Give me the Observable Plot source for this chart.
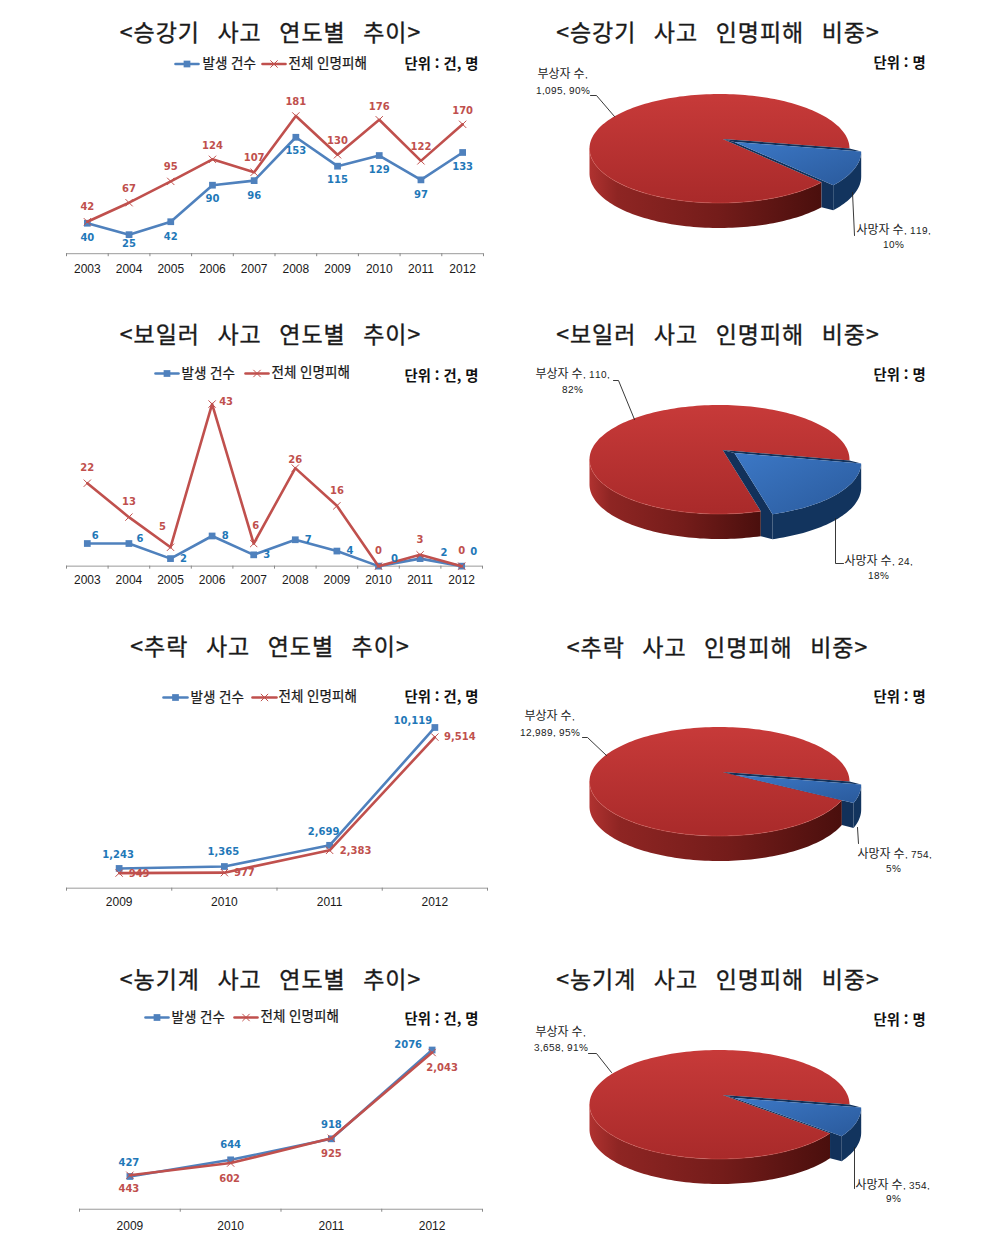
<!DOCTYPE html>
<html lang="ko">
<head>
<meta charset="utf-8">
<script src="https://cdn.jsdelivr.net/npm/d3@7"></script>
<script src="https://cdn.jsdelivr.net/npm/@observablehq/plot@0.6"></script>
<style>
@font-face{font-family:"PieLatin";src:local("Liberation Sans");size-adjust:84%;unicode-range:U+0020-007E;}
html,body{margin:0;padding:0;background:#fff;}
#page{position:relative;width:1001px;height:1244px;overflow:hidden;background:#fff;}
#page svg{position:absolute;overflow:visible;background:transparent;}
.ttl{position:absolute;transform:translateX(-50%);white-space:nowrap;font-family:"Noto Sans CJK KR",sans-serif;font-size:23px;line-height:30px;letter-spacing:1px;word-spacing:10px;color:#1a1a1a;-webkit-text-stroke:0.35px #1a1a1a;}
</style>
</head>
<body>
<div id="page"></div>
<script>
// ---------- data ----------
const seriesNames = ["발생 건수", "전체 인명피해"];
const longYears = [2003, 2004, 2005, 2006, 2007, 2008, 2009, 2010, 2011, 2012];
const shortYears = [2009, 2010, 2011, 2012];

const liftCases = [40, 25, 42, 90, 96, 153, 115, 129, 97, 133];
const liftCasualties = [42, 67, 95, 124, 107, 181, 130, 176, 122, 170];
const boilerCases = [6, 6, 2, 8, 3, 7, 4, 0, 2, 0];
const boilerCasualties = [22, 13, 5, 43, 6, 26, 16, 0, 3, 0];
const fallCases = [1243, 1365, 2699, 10119];
const fallCasualties = [949, 977, 2383, 9514];
const farmCases = [427, 644, 918, 2076];
const farmCasualties = [443, 602, 925, 2043];

const farmCaseLabels = ["427", "644", "918", "2076"];
const farmCasualtyLabels = ["443", "602", "925", "2,043"];

const deaths = [119, 24, 754, 354];
const injuries = [1095, 110, 12989, 3658];

const titles = [
  "<승강기 사고 연도별 추이>", "<승강기 사고 인명피해 비중>",
  "<보일러 사고 연도별 추이>", "<보일러 사고 인명피해 비중>",
  "<추락 사고 연도별 추이>", "<추락 사고 인명피해 비중>",
  "<농기계 사고 연도별 추이>", "<농기계 사고 인명피해 비중>"
];
const unitLine = "단위 : 건, 명";
const unitPie = "단위 : 명";
const injuryLabels = [["부상자 수,", "1,095, 90%"], ["부상자 수, 110,", "82%"], ["부상자 수,", "12,989, 95%"], ["부상자 수,", "3,658, 91%"]];
const deathLabels = [["사망자 수, 119,", "10%"], ["사망자 수, 24,", "18%"], ["사망자 수, 754,", "5%"], ["사망자 수, 354,", "9%"]];

// ---------- layout and style ----------
const BLUE = "#4f81bd", RED = "#c0504d", BLUE_TXT = "#1f78b8", RED_TXT = "#c0504d";
const LABEL_FONT = "'DejaVu Sans',sans-serif";
const KR = "'Noto Sans CJK KR',sans-serif";

const titleSpots = [[270.5, 31], [718, 31], [270.5, 333], [718, 333], [270, 645], [717.5, 646], [270.5, 978], [718, 978]];

const chartLayouts = [
  {years: longYears, a: liftCases, b: liftCasualties, baseline: 253.5, yMax: 200, px: 0.761, axisL: 66, axisR: 483, tickY: 16.5,
   adx: [0,0,0,0,0,0,0,0,0,0], ady: [15,9,15,14,15,14,14,14,15,14],
   bdx: [0,0,0,0,0,0,0,0,0,0], bdy: [-15,-14,-15,-14,-14,-14,-14,-13,-14,-14]},
  {years: longYears, a: boilerCases, b: boilerCasualties, baseline: 565.5, yMax: 45, px: 3.77, axisL: 66, axisR: 482, tickY: 15.5,
   adx: [8,11,13,13,13,13,13,16,24,12], ady: [-8,-5,0,0,0,0,0,-7,-6,-14],
   bdx: [0,0,-8,14,2,0,0,0,0,0], bdy: [-15,-15,-20,-2,-18,-8,-15,-15,-15,-15]},
  {years: shortYears, a: fallCases, b: fallCasualties, baseline: 887.5, yMax: 11000, px: 0.01588, axisL: 66, axisR: 487, tickY: 15.5,
   adx: [-1,-1,-6,-22], ady: [-14,-15,-14,-7],
   bdx: [20,20,26,25], bdy: [1,0,0,0], comma: true},
  {years: shortYears, a: farmCases, b: farmCasualties, baseline: 1209, yMax: 2200, px: 0.0767, axisL: 79, axisR: 482, tickY: 18,
   adx: [-1,0,0,-24], ady: [-14,-15,-14,-5],
   bdx: [-1,-1,0,10], bdy: [14,16,16,15],
   aLabels: farmCaseLabels, bLabels: farmCasualtyLabels}
];

const pieLayouts = [
  {cy: 147.5, start: 0, endShift: 3}, {cy: 459, start: 1, endShift: 6}, {cy: 781, start: 0, endShift: 0}, {cy: 1103.5, start: 0, endShift: 0}
];
const PIE = {cx: 719, rx: 130, ry: 54.5, depth: 25, apex: [0.025, -0.175], explode: [0.09, 0.055]};

const legends = [
  {y: 63.5, a: [175, 198], at: 202, b: [262, 285], bt: 288},
  {y: 373, a: [155, 178], at: 181, b: [245, 268], bt: 271},
  {y: 697, a: [163, 187], at: 190, b: [252, 276], bt: 278},
  {y: 1017, a: [145, 168], at: 171, b: [234, 257], bt: 260}
];
const unitSpots = [
  {x: 404, y: 64, t: unitLine}, {x: 873, y: 63, t: unitPie},
  {x: 404, y: 376, t: unitLine}, {x: 873, y: 375, t: unitPie},
  {x: 404, y: 697, t: unitLine}, {x: 873, y: 697, t: unitPie},
  {x: 404, y: 1019, t: unitLine}, {x: 873, y: 1020, t: unitPie}
];
const injurySpots = [[562, 74, 562, 90], [572, 374, 572, 389], [549, 716, 549, 732], [560, 1032, 560, 1047]];
const deathSpots = [[893, 230, 893, 244], [878, 561, 878, 575], [894, 854, 893, 868], [892, 1185, 893, 1198]];
const leaders = [
  [[590,95],[596,95],[614,116]], [[852,192],[854,235]],
  [[613,380],[618,380],[634,419]], [[835,518],[835,563],[843,563]],
  [[582,737],[587,737],[606,755]], [[857,827],[858,843]],
  [[588,1053],[596,1053],[611,1072]], [[854,1147],[854,1188]]
];

const page = document.getElementById("page");

// ---------- line charts ----------
function lineChart(c) {
  const mt = 10, mb = 30, W = 450, left = 50;
  const H = c.yMax * c.px;
  const n = c.years.length;
  const rows = c.years.map((year, i) => ({year, a: c.a[i], b: c.b[i]}));
  const fmt = c.comma ? d3.format(",") : String;
  const aText = c.aLabels || c.a.map(fmt);
  const bText = c.bLabels || c.b.map(fmt);
  const x0 = c.years[0] - 0.5;
  const boundaries = d3.range(n + 1).map(i => x0 + i);
  const labelMark = (val, text, dx, dy, fill) => rows.map((r, i) =>
    Plot.text([r], {x: "year", y: val, text: () => text[i], dx: dx[i], dy: dy[i], fill,
      fontSize: 10, fontWeight: "bold", fontFamily: LABEL_FONT}));
  const svg = Plot.plot({
    width: W, height: H + mt + mb,
    marginTop: mt, marginBottom: mb, marginLeft: c.axisL - left, marginRight: left + W - c.axisR,
    x: {domain: [x0, x0 + n]},
    y: {domain: [0, c.yMax], axis: null},
    style: {background: "transparent"},
    marks: [
      Plot.ruleY([0], {stroke: "#9a9a9a", strokeWidth: 1}),
      Plot.axisX({ticks: boundaries, tickFormat: () => "", tickSize: 3, stroke: "#888", label: null}),
      Plot.axisX({ticks: c.years, tickFormat: "d", tickSize: 0, tickPadding: c.tickY - 6, label: null,
        fontSize: 12, fontFamily: "'Liberation Sans',sans-serif", fill: "#1a1a1a"}),
      Plot.line(rows, {x: "year", y: "a", stroke: BLUE, strokeWidth: 2.6}),
      Plot.dot(rows, {x: "year", y: "a", symbol: "square", fill: BLUE, stroke: "none", r: 3.8}),
      Plot.line(rows, {x: "year", y: "b", stroke: RED, strokeWidth: 2.6}),
      Plot.dot(rows, {x: "year", y: "b", symbol: "times", stroke: RED, strokeWidth: 1, r: 3.4}),
      ...labelMark("a", aText, c.adx, c.ady, BLUE_TXT),
      ...labelMark("b", bText, c.bdx, c.bdy, RED_TXT)
    ]
  });
  svg.style.left = left + "px";
  svg.style.top = (c.baseline - H - mt) + "px";
  page.appendChild(svg);
}
chartLayouts.forEach(lineChart);

// ---------- pies ----------
function pieChart(i) {
  const L = pieLayouts[i];
  const W = 450, Ht = 200, left = 510, top = L.cy - 75;
  const total = deaths[i] + injuries[i];
  const rad = d => d * Math.PI / 180;
  const a0 = rad(L.start), a1 = a0 + 2 * Math.PI * deaths[i] / total + rad(L.endShift);
  const depth = PIE.depth / PIE.ry;
  const rim = (a, ox = 0, oy = 0) => [Math.cos(a) + ox, Math.sin(a) + oy];
  const steps = (from, to) => { const k = Math.max(2, Math.ceil(Math.abs(to - from) / 0.03)); return d3.range(k + 1).map(j => from + (to - from) * j / k); };
  const [ex, ey] = PIE.explode;
  const apexR = PIE.apex, apexB = [PIE.apex[0] + ex, PIE.apex[1] + ey];
  const down = p => [p[0], p[1] + depth];

  const redTop = [apexR, ...steps(a1, a0 + 2 * Math.PI).map(a => rim(a))];
  const redArc = steps(a1, Math.PI).map(a => rim(a));
  const redSide = [...redArc, ...redArc.slice().reverse().map(down)];
  const blueArc = steps(a0, a1).map(a => rim(a, ex, ey));
  const blueTop = [apexB, ...blueArc];
  const blueSide = [...blueArc, ...blueArc.slice().reverse().map(down)];
  const frontTip = blueArc[blueArc.length - 1], rightTip = blueArc[0];
  const cut = rim(a1), cut0 = rim(a0);
  const notch = [apexR, cut, down(cut), down(frontTip), frontTip, apexB];
  const upper = [apexR, cut0, rightTip, apexB];

  const poly = (pts, fill) => Plot.line(pts, {x: d => d[0], y: d => d[1], fill, stroke: "none", curve: "linear-closed"});
  const gid = n => `${n}${i}`;
  const defs = () => d3.create("svg:defs").html(`
    <linearGradient id="${gid("rt")}" x1="0" y1="0" x2="0" y2="1"><stop offset="0" stop-color="#c73a39"/><stop offset="1" stop-color="#a92a2a"/></linearGradient>
    <linearGradient id="${gid("rs")}" x1="0" y1="0" x2="1" y2="0"><stop offset="0" stop-color="#b03230"/><stop offset="0.12" stop-color="#8e2523"/><stop offset="0.55" stop-color="#741c1a"/><stop offset="1" stop-color="#4a0f0d"/></linearGradient>
    <linearGradient id="${gid("bt")}" x1="0" y1="0" x2="1" y2="1"><stop offset="0" stop-color="#3c78c6"/><stop offset="1" stop-color="#2a5a9c"/></linearGradient>
  `).node();

  const svg = Plot.plot({
    width: W, height: Ht, margin: 0,
    x: {axis: null, domain: [(left - PIE.cx) / PIE.rx, (left + W - PIE.cx) / PIE.rx], range: [0, W]},
    y: {axis: null, domain: [(top - L.cy) / PIE.ry, (top + Ht - L.cy) / PIE.ry], range: [0, Ht]},
    style: {background: "transparent"},
    marks: [
      defs,
      poly(redSide, `url(#${gid("rs")})`),
      poly(redTop, `url(#${gid("rt")})`),
      Plot.line(redArc, {x: d => d[0], y: d => d[1], stroke: "#d8605a", strokeWidth: 0.7, strokeOpacity: 0.6}),
      poly(notch, "#12315a"),
      poly(upper, "#12315a"),
      poly(blueSide, "#12345e"),
      poly(blueTop, `url(#${gid("bt")})`)
    ]
  });
  svg.style.left = left + "px";
  svg.style.top = top + "px";
  page.appendChild(svg);
}
d3.range(4).forEach(pieChart);

// ---------- annotations: legends, units, pie labels, leader lines ----------
const legendLines = [], legendSquares = [], legendStars = [], legendTexts = [];
legends.forEach((l, i) => {
  [[l.a, BLUE], [l.b, RED]].forEach(([span, color], k) => {
    legendLines.push({x: span[0], y: l.y, id: `${i}-${k}`, color});
    legendLines.push({x: span[1], y: l.y, id: `${i}-${k}`, color});
  });
  legendSquares.push({x: (l.a[0] + l.a[1]) / 2, y: l.y});
  legendStars.push({x: (l.b[0] + l.b[1]) / 2, y: l.y});
  legendTexts.push({x: l.at, y: l.y, t: seriesNames[0]}, {x: l.bt, y: l.y - 0.5, t: seriesNames[1]});
});
const pieTexts = [];
d3.range(4).forEach(i => {
  const a = injurySpots[i], b = deathSpots[i];
  pieTexts.push({x: a[0], y: a[1], t: injuryLabels[i][0]}, {x: a[2], y: a[3], t: injuryLabels[i][1]});
  pieTexts.push({x: b[0], y: b[1], t: deathLabels[i][0]}, {x: b[2], y: b[3], t: deathLabels[i][1]});
});
const leaderRows = leaders.flatMap((pts, id) => pts.map(p => ({x: p[0], y: p[1], id})));

const overlay = Plot.plot({
  width: 1001, height: 1244, margin: 0,
  x: {type: "identity", axis: null},
  y: {type: "identity", axis: null},
  style: {background: "transparent", pointerEvents: "none"},
  marks: [
    Plot.line(leaderRows, {x: "x", y: "y", z: "id", stroke: "#222", strokeWidth: 0.9}),
    Plot.line(legendLines, {x: "x", y: "y", z: "id", stroke: "color", strokeWidth: 2.6}),
    Plot.dot(legendSquares, {x: "x", y: "y", symbol: "square", fill: BLUE, stroke: "none", r: 3.8}),
    Plot.dot(legendStars, {x: "x", y: "y", symbol: "times", stroke: RED, strokeWidth: 1, r: 3.4}),
    Plot.text(legendTexts, {x: "x", y: "y", text: "t", textAnchor: "start", fontSize: 13.5, fontFamily: KR, fill: "#1a1a1a", stroke: "#1a1a1a", strokeWidth: 0.25}),
    Plot.text(unitSpots, {x: "x", y: "y", text: "t", textAnchor: "start", fontSize: 14.3, fontWeight: "bold", fontFamily: KR, fill: "#111"}),
    Plot.text(pieTexts, {x: "x", y: "y", text: "t", fontSize: 12, fontFamily: "PieLatin,'Noto Sans CJK KR',sans-serif", fill: "#222"})
  ]
});
overlay.style.left = "0px";
overlay.style.top = "0px";
page.appendChild(overlay);

// ---------- titles ----------
titles.forEach((t, i) => {
  const d = document.createElement("div");
  d.className = "ttl";
  d.textContent = t;
  d.style.left = titleSpots[i][0] + "px";
  d.style.top = (titleSpots[i][1] - 15) + "px";
  page.appendChild(d);
});
</script>
</body>
</html>
